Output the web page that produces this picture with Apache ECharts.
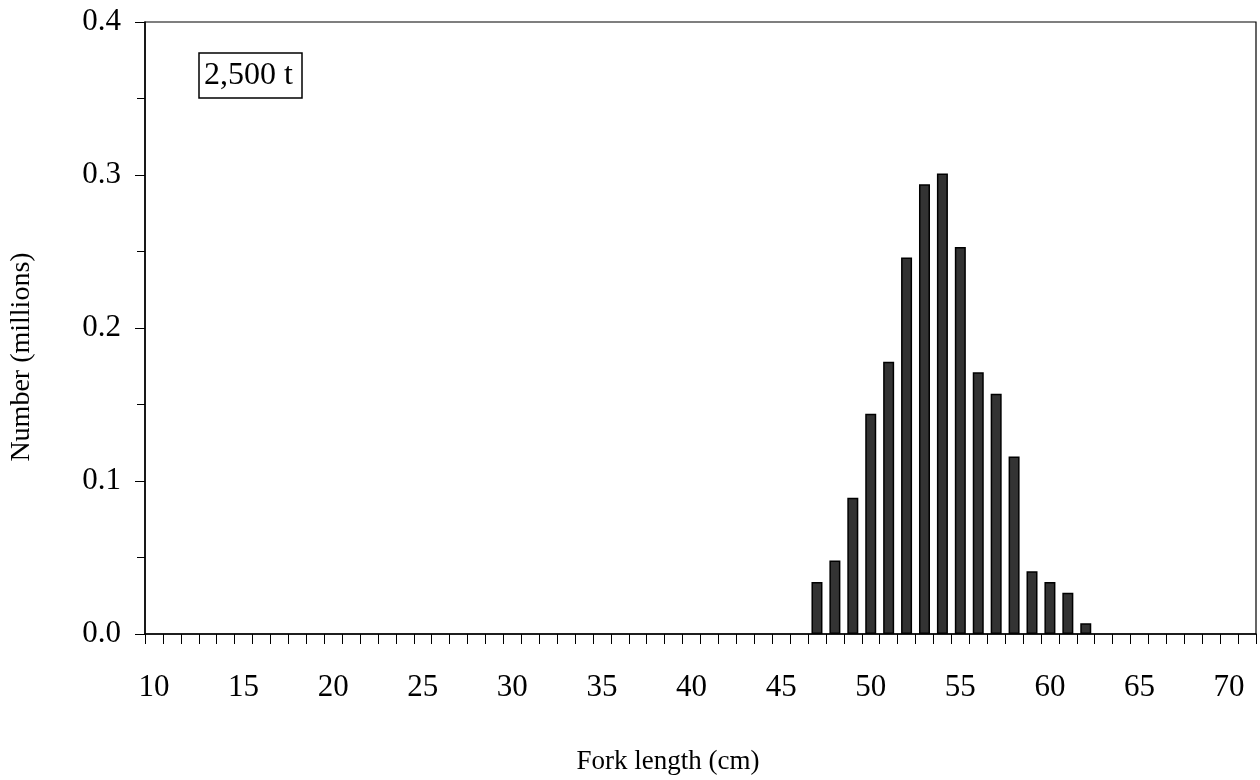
<!DOCTYPE html>
<html>
<head>
<meta charset="utf-8">
<script src="https://cdn.jsdelivr.net/npm/echarts@6/dist/echarts.min.js"></script>
<style>
  html, body { margin: 0; padding: 0; background: #fff; }
  #chart { width: 1260px; height: 780px; }
</style>
</head>
<body>
<div id="chart"></div>
<script>
// Fork length classes, 10 to 71 cm
const lengths = [];
for (let cm = 10; cm <= 71; cm++) lengths.push(String(cm));

// Numbers caught (millions) by fork length, 47 to 62 cm
const catchLengths = [47, 48, 49, 50, 51, 52, 53, 54, 55, 56, 57, 58, 59, 60, 61, 62];
const catchNumbers = [0.034, 0.048, 0.089, 0.144, 0.178, 0.246, 0.294, 0.301, 0.253, 0.171, 0.157, 0.116, 0.041, 0.034, 0.027, 0.007];

const yTicks = [0, 0.1, 0.2, 0.3, 0.4];
const catchLabel = '2,500 t';
const xTitle = 'Fork length (cm)';
const yTitle = 'Number (millions)';

const values = lengths.map(l => {
  const i = catchLengths.indexOf(Number(l));
  return i >= 0 ? catchNumbers[i] : null;
});

const serif = '"Liberation Serif", "DejaVu Serif", serif';

const chart = echarts.init(document.getElementById('chart'), null, { renderer: 'canvas' });
chart.setOption({
  animation: false,
  backgroundColor: '#ffffff',
  grid: {
    left: 145, right: 4, top: 22, bottom: 146,
    show: true, borderColor: '#000', borderWidth: 1.2, backgroundColor: 'transparent'
  },
  title: {
    text: catchLabel,
    left: 199, top: 53,
    padding: [7, 9, 6, 5],
    borderColor: '#000', borderWidth: 1.5,
    textStyle: { fontFamily: serif, fontSize: 32, fontWeight: 'normal', color: '#000' }
  },
  xAxis: {
    type: 'category',
    data: lengths,
    boundaryGap: true,
    axisLine: { lineStyle: { color: '#000', width: 1.5 } },
    axisTick: { show: true, interval: 0, length: 10, inside: false, lineStyle: { color: '#000', width: 1 } },
    axisLabel: {
      interval: 4, margin: 38,
      fontFamily: serif, fontSize: 31, color: '#000'
    },
    splitLine: { show: false }
  },
  yAxis: {
    type: 'value',
    min: yTicks[0], max: yTicks[yTicks.length - 1], interval: 0.1,
    axisLine: { show: true, lineStyle: { color: '#000', width: 1.5 } },
    axisTick: { show: true, length: 10, lineStyle: { color: '#000', width: 1 } },
    minorTick: { show: true, splitNumber: 2, length: 8, lineStyle: { color: '#000', width: 1 } },
    axisLabel: {
      margin: 24,
      fontFamily: serif, fontSize: 31, color: '#000',
      formatter: v => v.toFixed(1)
    },
    splitLine: { show: false }
  },
  graphic: [
    {
      type: 'text', x: 668, y: 748,
      style: { text: xTitle, font: '27px ' + serif, fill: '#000', align: 'center', verticalAlign: 'top' }
    },
    {
      type: 'text', x: 8, y: 357, rotation: Math.PI / 2,
      style: { text: yTitle, font: '28px ' + serif, fill: '#000', align: 'center', verticalAlign: 'top' }
    }
  ],
  series: [{
    type: 'bar',
    data: values,
    barWidth: 11,
    itemStyle: { color: '#333333', borderColor: '#000', borderWidth: 1.5 }
  }]
});
</script>
</body>
</html>
